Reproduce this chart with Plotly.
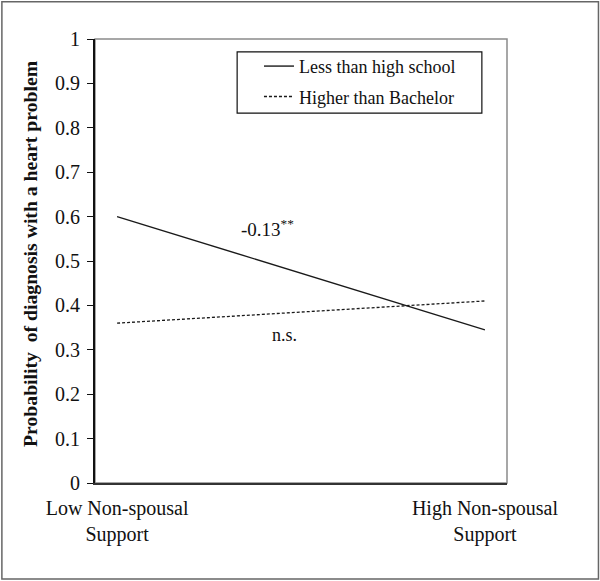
import plotly.graph_objects as go

# data
support_levels = [0, 1]
support_labels = ["Low Non-spousal<br>Support", "High Non-spousal<br>Support"]
less_than_hs = [0.60, 0.345]
higher_than_ba = [0.36, 0.41]
y_ticks = [0, 0.1, 0.2, 0.3, 0.4, 0.5, 0.6, 0.7, 0.8, 0.9, 1]
y_tick_text = ["0", "0.1", "0.2", "0.3", "0.4", "0.5", "0.6", "0.7", "0.8", "0.9", "1"]
y_title = "Probability  of diagnosis with a heart problem"

serif = "Liberation Serif, Times New Roman, serif"

fig = go.Figure()

fig.add_trace(go.Scatter(
    x=support_levels, y=less_than_hs,
    mode="lines", name="Less than high school",
    line=dict(color="#1a1a1a", width=1.4),
    legendgroup="a",
))
fig.add_trace(go.Scatter(
    x=support_levels, y=higher_than_ba,
    mode="lines", name="Higher than Bachelor",
    line=dict(color="#1a1a1a", width=1.3, dash="3px,2px"),
    legendgroup="b",
))

# slope labels
fig.add_annotation(x=0.41, y=0.575, text="-0.13<sup>**</sup>", showarrow=False,
                   font=dict(family=serif, size=19, color="#111"))
fig.add_annotation(x=0.455, y=0.334, text="n.s.", showarrow=False,
                   font=dict(family=serif, size=18, color="#111"))

# y axis title, placed by hand
fig.add_annotation(xref="paper", yref="paper", x=-0.158, y=0.518,
                   xanchor="center", yanchor="middle",
                   text=f"<b>{y_title}</b>", textangle=-90, showarrow=False,
                   font=dict(family=serif, size=19.7, color="#111"))

# grey plot frame (top / right), legend box and outer picture frame
fig.add_shape(type="rect", xref="paper", yref="paper", x0=0, x1=1, y0=0, y1=1,
              line=dict(color="#8a8a8a", width=1.5), layer="below")
fig.add_shape(type="rect", xref="paper", yref="paper",
              x0=0.345, x1=0.939, y0=0.833, y1=0.971,
              line=dict(color="#111", width=1.2))
fig.add_shape(type="rect", xref="paper", yref="paper",
              x0=-0.226, x1=1.222, y0=-0.216, y1=1.084,
              line=dict(color="#666", width=1.5))

fig.update_layout(
    width=600, height=581,
    paper_bgcolor="white", plot_bgcolor="white",
    margin=dict(l=95, r=93, t=39, b=98),
    font=dict(family=serif, color="#111"),
    showlegend=True,
    legend=dict(
        x=0.398, y=0.98, xanchor="left", yanchor="top",
        borderwidth=0, bgcolor="rgba(0,0,0,0)",
        font=dict(family=serif, size=18, color="#111"),
        traceorder="grouped", tracegroupgap=4,
    ),
)

fig.update_xaxes(
    range=[-0.06, 1.06], tickvals=support_levels, ticktext=support_labels,
    showgrid=False, zeroline=False, showline=True, linecolor="#333", linewidth=2,
    ticks="", tickfont=dict(family=serif, size=20, color="#111"),
    ticklabelstandoff=6,
)
fig.update_yaxes(
    range=[0, 1], tickvals=y_ticks, ticktext=y_tick_text,
    showgrid=False, zeroline=False, showline=True, linecolor="#111", linewidth=2,
    ticks="outside", ticklen=6, tickcolor="#111", tickwidth=1.3,
    tickfont=dict(family=serif, size=20, color="#111"),
    ticklabelstandoff=3,
)

fig.write_html("out.html", config={"displayModeBar": False},
               post_script="document.body.style.margin='0';")
